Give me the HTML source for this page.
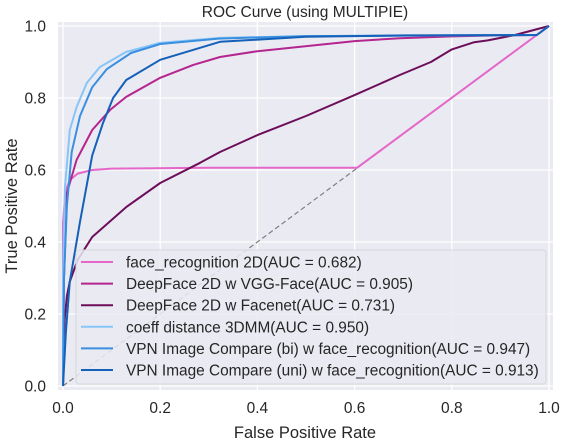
<!DOCTYPE html>
<html><head><meta charset="utf-8"><style>
html,body{margin:0;padding:0;background:#fff;}
svg{display:block;font-family:"Liberation Sans",Arial,sans-serif;}
</style></head><body>
<svg id="chart" width="562" height="442" viewBox="0 0 562 442">
<rect x="58" y="22" width="495" height="368" fill="#eaeaf2"/>
<g id="grid"></g>
<g id="ticks"></g>
<line id="diag" stroke="#808080" stroke-width="1.2" stroke-dasharray="5,3"/>
<g id="lines"></g>
<text x="305" y="17" text-anchor="middle" font-size="15.5" fill="#262626">ROC Curve (using MULTIPIE)</text>
<text x="305" y="438" text-anchor="middle" font-size="16.5" fill="#262626">False Positive Rate</text>
<text x="17" y="206" text-anchor="middle" font-size="16.5" fill="#262626" transform="rotate(-90 17 206)">True Positive Rate</text>
<g id="legend"></g>
</svg>
<script>
const tickVals=[0,0.2,0.4,0.6,0.8,1.0];
const tickLabels=["0.0","0.2","0.4","0.6","0.8","1.0"];
const seriesNames=["face_recognition 2D(AUC = 0.682)","DeepFace 2D w VGG-Face(AUC = 0.905)","DeepFace 2D w Facenet(AUC = 0.731)","coeff distance 3DMM(AUC = 0.950)","VPN Image Compare (bi) w face_recognition(AUC = 0.947)","VPN Image Compare (uni) w face_recognition(AUC = 0.913)"];
const seriesColors=["#e467c9","#b5258f","#6d0e5a","#87c5f7","#3a8fe0","#1560b8"];
const faceRecX=[0,0,0.005,0.014,0.03,0.06,0.1,0.3,0.605,1];
const faceRecY=[0,0.45,0.54,0.572,0.59,0.6,0.604,0.606,0.606,1];
const vggX=[0,0.002,0.008,0.028,0.06,0.097,0.13,0.2,0.268,0.323,0.4,0.6,0.693,0.8,0.9,0.975,1];
const vggY=[0,0.3,0.536,0.628,0.711,0.767,0.803,0.856,0.892,0.914,0.93,0.958,0.966,0.971,0.974,0.975,1];
const facenetX=[0,0.003,0.008,0.014,0.03,0.06,0.13,0.2,0.282,0.323,0.4,0.5,0.6,0.693,0.757,0.8,0.846,0.874,0.93,1];
const facenetY=[0,0.18,0.25,0.29,0.35,0.414,0.497,0.564,0.62,0.65,0.697,0.75,0.808,0.864,0.9,0.935,0.955,0.96,0.975,1];
const coeffX=[0,0,0.004,0.014,0.028,0.049,0.076,0.13,0.2,0.323,0.5,0.975,1];
const coeffY=[0,0.3,0.55,0.711,0.775,0.842,0.886,0.928,0.953,0.967,0.972,0.975,1];
const biX=[0,0.002,0.008,0.018,0.035,0.06,0.09,0.14,0.2,0.32,0.5,0.975,1];
const biY=[0,0.3,0.5,0.65,0.75,0.83,0.88,0.925,0.95,0.965,0.972,0.975,1];
const uniX=[0,0.006,0.014,0.035,0.06,0.082,0.103,0.13,0.2,0.323,0.5,0.7,0.975,1];
const uniY=[0,0.15,0.29,0.456,0.64,0.73,0.8,0.85,0.906,0.956,0.97,0.974,0.975,1];

const NS="http://www.w3.org/2000/svg";
const X0=63,X1=549,Y0=386,Y1=26;
function sx(v){return X0+v*(X1-X0);}
function sy(v){return Y0-v*(Y0-Y1);}
const grid=document.getElementById('grid'),ticks=document.getElementById('ticks');
tickVals.forEach((t,i)=>{
  const gx=document.createElementNS(NS,'line');
  gx.setAttribute('x1',sx(t));gx.setAttribute('x2',sx(t));gx.setAttribute('y1',22);gx.setAttribute('y2',390);
  gx.setAttribute('stroke','#fff');gx.setAttribute('stroke-width','1.3');
  
  
  grid.appendChild(gx);
  const gy=document.createElementNS(NS,'line');
  gy.setAttribute('x1',58);gy.setAttribute('x2',553);gy.setAttribute('y1',sy(t));gy.setAttribute('y2',sy(t));
  gy.setAttribute('stroke','#fff');gy.setAttribute('stroke-width','1.3');
  
  
  grid.appendChild(gy);
  const tx=document.createElementNS(NS,'text');
  tx.setAttribute('x',sx(t));tx.setAttribute('y',413);tx.setAttribute('text-anchor','middle');
  tx.setAttribute('font-size','15.5');tx.setAttribute('fill','#262626');
  tx.textContent=tickLabels[i];
  
  
  ticks.appendChild(tx);
  const ty=document.createElementNS(NS,'text');
  ty.setAttribute('x',46);ty.setAttribute('y',sy(t)+5.5);ty.setAttribute('text-anchor','end');
  ty.setAttribute('font-size','15.5');ty.setAttribute('fill','#262626');
  ty.textContent=tickLabels[i];
  
  
  ticks.appendChild(ty);
});
const d=document.getElementById('diag');
d.setAttribute('x1',sx(0));d.setAttribute('y1',sy(0));d.setAttribute('x2',sx(1));d.setAttribute('y2',sy(1));
const allX=[faceRecX,vggX,facenetX,coeffX,biX,uniX],allY=[faceRecY,vggY,facenetY,coeffY,biY,uniY];
const lines=document.getElementById('lines');
const lineNames=['face-recognition-line','vgg-face-line','facenet-line','coeff-3dmm-line','vpn-bi-line','vpn-uni-line'];
allX.forEach((xs,k)=>{
  const p=document.createElementNS(NS,'polyline');
  p.setAttribute('points',xs.map((x,i)=>sx(x).toFixed(1)+','+sy(allY[k][i]).toFixed(1)).join(' '));
  p.setAttribute('fill','none');p.setAttribute('stroke',seriesColors[k]);p.setAttribute('stroke-width','2');
  p.setAttribute('stroke-linejoin','round');
  
  
  lines.appendChild(p);
});
const lg=document.getElementById('legend');
const box=document.createElementNS(NS,'rect');
box.setAttribute('x',76);box.setAttribute('y',250);box.setAttribute('width',470);box.setAttribute('height',134);
box.setAttribute('rx',3);box.setAttribute('fill','#eaeaf2');box.setAttribute('fill-opacity','0.85');
box.setAttribute('stroke','#d6d6dc');


lg.appendChild(box);
seriesNames.forEach((n,k)=>{
  const yy=262+k*21.6;
  const l=document.createElementNS(NS,'line');
  l.setAttribute('x1',81);l.setAttribute('x2',113);l.setAttribute('y1',yy);l.setAttribute('y2',yy);
  l.setAttribute('stroke',seriesColors[k]);l.setAttribute('stroke-width','2');
  
  
  lg.appendChild(l);
  const t=document.createElementNS(NS,'text');
  t.setAttribute('x',126);t.setAttribute('y',yy+5.5);t.setAttribute('font-size','15.4');t.setAttribute('fill','#262626');
  t.textContent=n;
  
  
  lg.appendChild(t);
});
</script>
</body></html>
